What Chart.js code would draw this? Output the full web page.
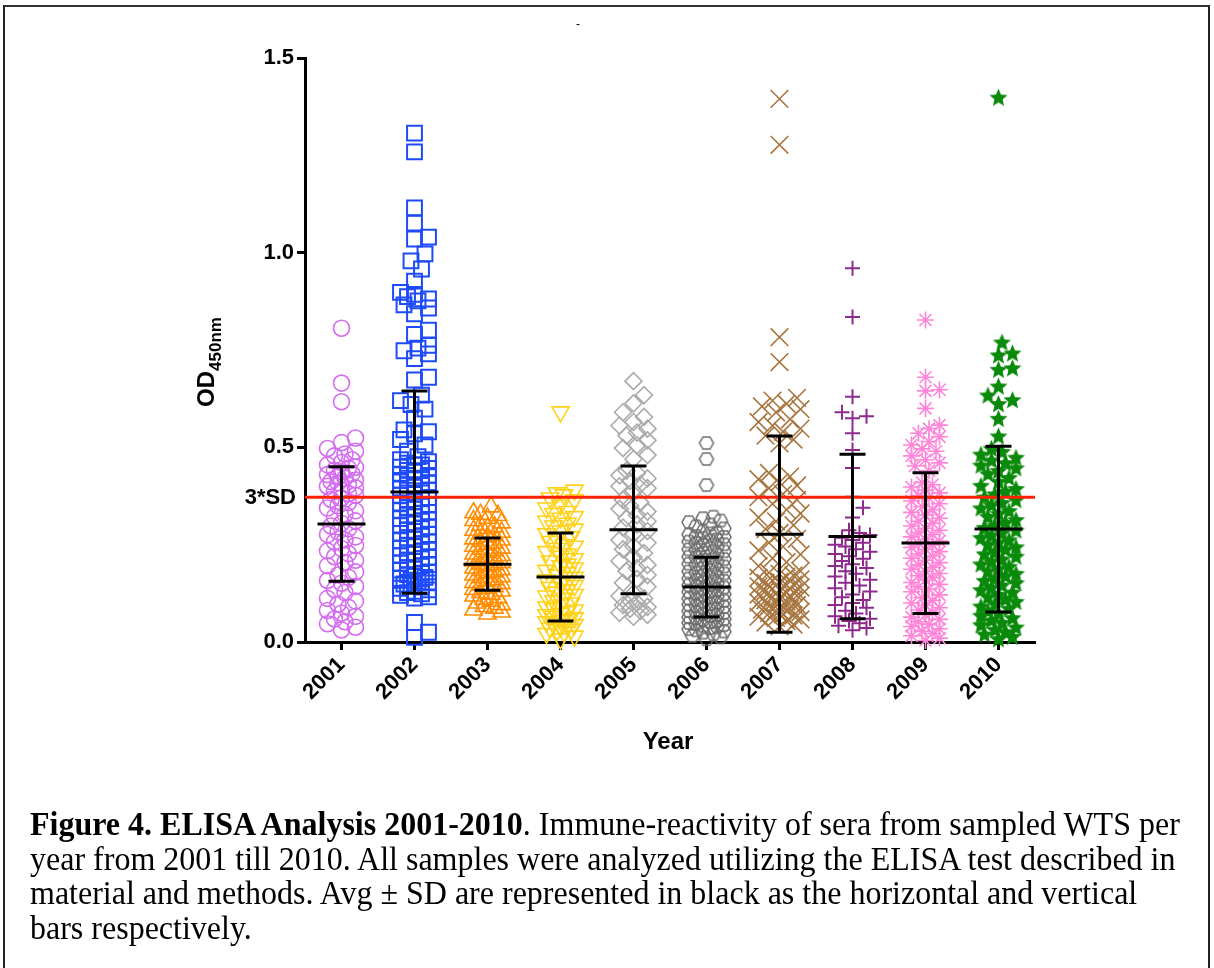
<!DOCTYPE html>
<html>
<head>
<meta charset="utf-8">
<title>ELISA Analysis 2001-2010</title>
<script src="https://cdn.jsdelivr.net/npm/chart.js@4.4.1/dist/chart.umd.min.js"></script>
<style>
    html, body { margin: 0; padding: 0; background: #fff; }
    #page { position: relative; width: 1214px; height: 968px; overflow: hidden; }
    #frame { position: absolute; left: 3px; top: 5px; width: 1203px; height: 1000px;
             border-top: 2px solid #333; border-left: 2px solid #222; border-right: 2px solid #222; }
    #grafico { position: absolute; left: 0; top: 0; }
    #marca { position: absolute; left: 576px; top: 17px; font: 12px 'Liberation Sans'; }
    #caption { position: absolute; left: 30px; top: 806px; font-family: 'Liberation Serif', serif;
               font-size: 32px; line-height: 32.5px; white-space: nowrap; color: #000;
               transform: scaleY(1.06); transform-origin: 0 0; }
</style>
</head>
<body>
<div id="page">
    <div id="frame"></div>
    <canvas id="grafico" width="1214" height="968"></canvas>
    <span id="marca">-</span>
    <div id="caption"><b>Figure 4. ELISA Analysis 2001-2010</b>. Immune-reactivity of sera from sampled WTS per<br>year from 2001 till 2010. All samples were analyzed utilizing the ELISA test described in<br>material and methods. Avg &plusmn; SD are represented in black as the horizontal and vertical<br>bars respectively.</div>
</div>
<script>
// Categorías (años)
const years = ['2001', '2002', '2003', '2004', '2005', '2006', '2007', '2008', '2009', '2010'];

// Valores OD450nm, uno por muestra
const od2001 = [0.806, 0.665, 0.617, 0.524, 0.512, 0.497, 0.49, 0.483, 0.478, 0.468, 0.461, 0.455, 0.449,
    0.446, 0.441, 0.437, 0.432, 0.43, 0.424, 0.421, 0.416, 0.412, 0.409, 0.403, 0.4, 0.396, 0.39, 0.387,
    0.381, 0.377, 0.37, 0.366, 0.358, 0.35, 0.344, 0.337, 0.328, 0.322, 0.311, 0.305, 0.298, 0.291, 0.283,
    0.276, 0.27, 0.262, 0.257, 0.248, 0.24, 0.234, 0.227, 0.219, 0.21, 0.204, 0.196, 0.18, 0.172, 0.166,
    0.158, 0.151, 0.143, 0.135, 0.127, 0.112, 0.105, 0.097, 0.089, 0.081, 0.074, 0.066, 0.059, 0.052,
    0.047, 0.038, 0.031];
const od2002 = [1.307, 1.259, 1.115, 1.076, 1.04, 1.035, 0.997, 0.979, 0.958, 0.927, 0.898, 0.893, 0.887,
    0.881, 0.876, 0.866, 0.858, 0.843, 0.801, 0.79, 0.762, 0.755, 0.748, 0.74, 0.728, 0.68, 0.673, 0.634,
    0.62, 0.61, 0.598, 0.575, 0.545, 0.54, 0.535, 0.52, 0.506, 0.49, 0.476, 0.468,
    0.463, 0.459, 0.455, 0.455, 0.449, 0.446, 0.441, 0.44, 0.436, 0.431, 0.428, 0.428, 0.421, 0.418, 0.415,
    0.409, 0.404, 0.404, 0.399, 0.395, 0.39, 0.388, 0.383, 0.379, 0.377, 0.371, 0.368, 0.366, 0.36, 0.357,
    0.352, 0.349, 0.346, 0.342, 0.337, 0.333, 0.331, 0.326, 0.322, 0.317, 0.315, 0.311, 0.306, 0.303, 0.3,
    0.296, 0.291, 0.287, 0.284, 0.279, 0.276, 0.272, 0.267, 0.264, 0.26, 0.257, 0.252, 0.248, 0.245, 0.241,
    0.236, 0.233, 0.229, 0.226, 0.222, 0.217, 0.214, 0.21, 0.207, 0.203, 0.199, 0.196, 0.191, 0.188, 0.185,
    0.18, 0.177, 0.173, 0.17, 0.166, 0.163, 0.159, 0.155, 0.152, 0.149, 0.145, 0.141, 0.138, 0.134, 0.13,
    0.127, 0.124, 0.12, 0.116, 0.113, 0.05, 0.025, 0.012];
const od2003 = [0.347, 0.332, 0.328, 0.325, 0.318, 0.312, 0.306, 0.3, 0.296, 0.292, 0.287, 0.282, 0.278,
    0.273, 0.27, 0.265, 0.262, 0.258, 0.254, 0.25, 0.246, 0.241, 0.238, 0.234, 0.23, 0.226, 0.222, 0.219,
    0.215, 0.211, 0.208, 0.204, 0.2, 0.198, 0.194, 0.19, 0.186, 0.183, 0.18, 0.176, 0.172, 0.168, 0.165,
    0.16, 0.157, 0.153, 0.15, 0.146, 0.142, 0.138, 0.135, 0.131, 0.127, 0.123, 0.118, 0.114, 0.11, 0.105,
    0.1, 0.096, 0.091, 0.087, 0.082, 0.077, 0.072];
const od2004 = [0.591, 0.39, 0.383, 0.378, 0.37, 0.365, 0.352, 0.344, 0.335, 0.33, 0.322, 0.318, 0.31,
    0.305, 0.298, 0.29, 0.285, 0.278, 0.27, 0.264, 0.258, 0.25, 0.246, 0.24, 0.232, 0.226, 0.22, 0.214,
    0.208, 0.2, 0.196, 0.19, 0.184, 0.178, 0.172, 0.166, 0.16, 0.155, 0.15, 0.145, 0.14, 0.134, 0.128,
    0.122, 0.118, 0.112, 0.106, 0.1, 0.095, 0.09, 0.086, 0.082, 0.078, 0.074, 0.07, 0.066, 0.062, 0.058,
    0.055, 0.052, 0.048, 0.045, 0.042, 0.039, 0.036, 0.033, 0.03, 0.026, 0.022, 0.015, 0.008];
const od2005 = [0.67, 0.634, 0.613, 0.59, 0.578, 0.565, 0.556, 0.548, 0.538, 0.53, 0.518, 0.505, 0.498,
    0.48, 0.47, 0.44, 0.434, 0.428, 0.42, 0.414, 0.405, 0.4, 0.395, 0.388, 0.365, 0.358, 0.35, 0.342, 0.335,
    0.326, 0.318, 0.31, 0.302, 0.294, 0.285, 0.278, 0.262, 0.255, 0.246, 0.238, 0.228, 0.218, 0.208, 0.198,
    0.19, 0.182, 0.172, 0.162, 0.152, 0.142, 0.125, 0.118, 0.112, 0.106, 0.1, 0.095, 0.09, 0.085, 0.08,
    0.075, 0.07, 0.065];
const od2006 = [0.511, 0.47, 0.403, 0.322, 0.318, 0.312, 0.308, 0.302, 0.297, 0.292, 0.284, 0.281, 0.279,
    0.276, 0.272, 0.27, 0.267, 0.263, 0.261, 0.258, 0.254, 0.251, 0.249, 0.245, 0.242, 0.238, 0.236, 0.233,
    0.229, 0.226, 0.222, 0.219, 0.217, 0.213, 0.21, 0.207, 0.203, 0.201, 0.198, 0.194, 0.191, 0.188, 0.185,
    0.181, 0.178, 0.176, 0.172, 0.169, 0.166, 0.163, 0.16, 0.157, 0.154, 0.151, 0.148, 0.146, 0.143, 0.14,
    0.137, 0.134, 0.131, 0.129, 0.126, 0.123, 0.12, 0.117, 0.115, 0.112, 0.109, 0.106, 0.104, 0.101, 0.098,
    0.096, 0.093, 0.09, 0.088, 0.085, 0.082, 0.08, 0.077, 0.075, 0.072, 0.069, 0.067, 0.064, 0.062, 0.059,
    0.057, 0.054, 0.052, 0.049, 0.047, 0.044, 0.042, 0.039, 0.036, 0.033, 0.03, 0.027, 0.024, 0.02, 0.016,
    0.012, 0.007];
const od2007 = [1.395, 1.277, 0.783, 0.719, 0.627, 0.62, 0.612, 0.605, 0.598, 0.59, 0.572, 0.565, 0.556,
    0.548, 0.54, 0.53, 0.52, 0.51, 0.434, 0.425, 0.418, 0.41, 0.402, 0.395, 0.38, 0.372, 0.365, 0.355, 0.34,
    0.33, 0.32, 0.31, 0.3, 0.29, 0.28, 0.265, 0.255, 0.245, 0.235, 0.225, 0.215, 0.205, 0.195, 0.182, 0.178,
    0.175, 0.171, 0.168, 0.165, 0.161, 0.158, 0.155, 0.152, 0.148, 0.146, 0.143, 0.14, 0.137, 0.134, 0.131,
    0.128, 0.126, 0.122, 0.119, 0.116, 0.113, 0.11, 0.107, 0.104, 0.101, 0.098, 0.095, 0.092, 0.089, 0.086,
    0.083, 0.08, 0.077, 0.074, 0.071, 0.068, 0.065, 0.062, 0.058, 0.054, 0.05, 0.045, 0.04];
const od2008 = [0.96, 0.835, 0.63, 0.59, 0.58, 0.575, 0.536, 0.493, 0.447, 0.373, 0.345, 0.32, 0.287, 0.28,
    0.275, 0.268, 0.262, 0.255, 0.25, 0.245, 0.238, 0.232, 0.226, 0.22, 0.214, 0.208, 0.2, 0.195, 0.19,
    0.182, 0.175, 0.168, 0.16, 0.152, 0.145, 0.138, 0.13, 0.122, 0.115, 0.108, 0.1, 0.095, 0.088, 0.08,
    0.073, 0.066, 0.06, 0.054, 0.048, 0.042, 0.036, 0.03];
const od2009 = [0.827, 0.68, 0.648, 0.645, 0.6, 0.557, 0.548, 0.536, 0.527, 0.515, 0.506, 0.496, 0.49,
    0.478, 0.468, 0.46, 0.452, 0.44, 0.41, 0.404, 0.398, 0.39, 0.383, 0.376, 0.37, 0.362, 0.355, 0.348,
    0.34, 0.333, 0.326, 0.318, 0.31, 0.305, 0.298, 0.292, 0.287, 0.281, 0.276, 0.27, 0.264, 0.259, 0.254,
    0.249, 0.243, 0.238, 0.232, 0.226, 0.221, 0.215, 0.21, 0.204, 0.198, 0.192, 0.187, 0.181, 0.176, 0.17,
    0.165, 0.159, 0.153, 0.148, 0.142, 0.136, 0.129, 0.121, 0.114, 0.107, 0.1, 0.094, 0.088, 0.082, 0.076,
    0.07, 0.064, 0.058, 0.052, 0.046, 0.04, 0.034, 0.028, 0.022, 0.016, 0.01, 0.004];
const od2010 = [1.397, 0.768, 0.74, 0.735, 0.702, 0.698, 0.655, 0.632, 0.62, 0.61, 0.572, 0.527, 0.495,
    0.487, 0.48, 0.472, 0.465, 0.458, 0.452, 0.445, 0.438, 0.43, 0.42, 0.41, 0.4, 0.392, 0.385, 0.378, 0.37,
    0.363, 0.356, 0.35, 0.342, 0.335, 0.328, 0.32, 0.312, 0.305, 0.298, 0.292, 0.285, 0.279, 0.272, 0.266,
    0.26, 0.254, 0.248, 0.242, 0.236, 0.23, 0.224, 0.218, 0.211, 0.205, 0.198, 0.192, 0.186, 0.18, 0.174,
    0.168, 0.162, 0.156, 0.15, 0.144, 0.138, 0.132, 0.126, 0.12, 0.114, 0.108, 0.102, 0.096, 0.09, 0.084,
    0.078, 0.072, 0.066, 0.06, 0.054, 0.048, 0.042, 0.036, 0.03, 0.024, 0.018, 0.012, 0.006];

// Media y desviación estándar (barras negras)
const means = [0.303, 0.385, 0.200, 0.167, 0.288, 0.141, 0.277, 0.271, 0.254, 0.290];
const sds = [0.147, 0.260, 0.067, 0.113, 0.164, 0.077, 0.252, 0.211, 0.181, 0.213];

// Línea de corte 3*SD
const cutoff = 0.372;

const yTicks = [0, 0.5, 1.0, 1.5];

document.addEventListener('DOMContentLoaded', function() {
    // Escalas aproximadas en píxeles, sólo para repartir los puntos en horizontal
    const PX_PER_UNIT = 389.3;
    const PX_PER_CAT = 73;

    // Reparto tipo "beeswarm" como en GraphPad
    function swarm(values, diam, maxPx) {
        const step = 3.5;
        const order = values.map((v, i) => i).sort((a, b) => values[a] - values[b]);
        const placed = [];
        const off = new Array(values.length).fill(0);
        const nCand = 2 * Math.floor(maxPx / step);
        order.forEach(i => {
            const y = values[i] * PX_PER_UNIT;
            let best = 0, bestScore = -1;
            for (let k = 0; k <= nCand; k++) {
                const cx = (k % 2 ? 1 : -1) * Math.ceil(k / 2) * step;
                let minD = Infinity;
                placed.forEach(p => {
                    const d = Math.hypot(p.x - cx, p.y - y);
                    if (d < minD) minD = d;
                });
                if (minD >= diam) { best = cx; bestScore = Infinity; break; }
                if (minD > bestScore + 0.5) { bestScore = minD; best = cx; }
            }
            placed.push({ x: best, y: y });
            off[i] = best / PX_PER_CAT;
        });
        return off;
    }

    // Marcadores que Chart.js no trae: hexágono y estrella rellena
    function makeHex(color, r) {
        const c = document.createElement('canvas');
        const s = Math.ceil(r * 2 + 4);
        c.width = s; c.height = s;
        const g = c.getContext('2d');
        g.strokeStyle = color;
        g.lineWidth = 1.5;
        g.beginPath();
        for (let i = 0; i < 6; i++) {
            const a = i * Math.PI / 3;
            g.lineTo(s / 2 + r * Math.cos(a), s / 2 + r * Math.sin(a));
        }
        g.closePath();
        g.stroke();
        return c;
    }
    function makeStar(color, r) {
        const c = document.createElement('canvas');
        const s = Math.ceil(r * 2 + 2);
        c.width = s; c.height = s;
        const g = c.getContext('2d');
        g.fillStyle = color;
        g.beginPath();
        for (let i = 0; i < 10; i++) {
            const rad = i % 2 ? r * 0.45 : r;
            const a = -Math.PI / 2 + i * Math.PI / 5;
            g.lineTo(s / 2 + rad * Math.cos(a), s / 2 + rad * Math.sin(a));
        }
        g.closePath();
        g.fill();
        return c;
    }

    const series = [
        { data: od2001, color: '#D56CF0', style: 'circle', radius: 8, width: 1.6, diam: 13, spread: 17 },
        { data: od2002, color: '#1E4BFA', style: 'rect', radius: 10.5, width: 2, diam: 13, spread: 17 },
        { data: od2003, color: '#FF8C00', style: 'triangle', radius: 10, width: 1.6, diam: 13, spread: 16 },
        { data: od2004, color: '#FFD21A', style: 'triangle', rotation: 180, radius: 10, width: 1.6, diam: 13, spread: 17 },
        { data: od2005, color: '#ABABAB', style: 'rectRot', radius: 8.5, width: 1.6, diam: 13, spread: 17 },
        { data: od2006, color: '#6E6E6E', style: makeHex('#6E6E6E', 7), radius: 7, width: 1.5, diam: 12, spread: 20 },
        { data: od2007, color: '#A8753F', style: 'crossRot', radius: 12.5, width: 1.6, diam: 14, spread: 21 },
        { data: od2008, color: '#8E2A8E', style: 'cross', radius: 7.5, width: 2, diam: 12, spread: 20 },
        { data: od2009, color: '#FF85D8', style: 'star', radius: 8.5, width: 1.6, diam: 13, spread: 17 },
        { data: od2010, color: '#0A8A0A', style: makeStar('#0A8A0A', 9.5), radius: 9.5, width: 1, diam: 13, spread: 20 }
    ];

    const datasets = series.map((s, idx) => {
        const off = swarm(s.data, s.diam, s.spread);
        return {
            label: years[idx],
            data: s.data.map((v, i) => ({ x: idx + 1 + off[i], y: v })),
            pointStyle: s.style,
            pointRotation: s.rotation || 0,
            pointRadius: s.radius,
            pointBorderWidth: s.width,
            pointBorderColor: s.color,
            pointBackgroundColor: 'rgba(0,0,0,0)',
            showLine: false,
            clip: false
        };
    });

    // Dibujo de media ± SD, línea de corte y títulos de los ejes
    const extras = {
        id: 'extras',
        afterDatasetsDraw(chart) {
            const ctx = chart.ctx;
            const xs = chart.scales.x, ys = chart.scales.y;
            const area = chart.chartArea;
            ctx.save();

            // línea roja 3*SD
            const yc = ys.getPixelForValue(cutoff);
            ctx.strokeStyle = '#FF2200';
            ctx.lineWidth = 3;
            ctx.beginPath();
            ctx.moveTo(area.left, yc);
            ctx.lineTo(area.right, yc);
            ctx.stroke();
            ctx.fillStyle = '#000';
            ctx.font = 'bold 22px "Liberation Sans"';
            ctx.textAlign = 'right';
            ctx.textBaseline = 'middle';
            ctx.fillText('3*SD', area.left - 9, yc + 1);

            // media ± SD
            ctx.strokeStyle = '#000';
            ctx.lineWidth = 3;
            means.forEach((m, i) => {
                const x = xs.getPixelForValue(i + 1);
                const yM = ys.getPixelForValue(m);
                const yT = ys.getPixelForValue(m + sds[i]);
                const yB = ys.getPixelForValue(m - sds[i]);
                ctx.beginPath();
                ctx.moveTo(x - 24, yM); ctx.lineTo(x + 24, yM);
                ctx.moveTo(x, yT); ctx.lineTo(x, yB);
                ctx.moveTo(x - 13, yT); ctx.lineTo(x + 13, yT);
                ctx.moveTo(x - 13, yB); ctx.lineTo(x + 13, yB);
                ctx.stroke();
            });

            // título eje Y con subíndice
            ctx.translate(206, 362);
            ctx.rotate(-Math.PI / 2);
            ctx.textAlign = 'left';
            ctx.textBaseline = 'alphabetic';
            ctx.font = 'bold 24px "Liberation Sans"';
            const w1 = ctx.measureText('OD').width;
            ctx.font = 'bold 17px "Liberation Sans"';
            const w2 = ctx.measureText('450nm').width;
            const x0 = -(w1 + w2) / 2;
            ctx.font = 'bold 24px "Liberation Sans"';
            ctx.fillText('OD', x0, 8);
            ctx.font = 'bold 17px "Liberation Sans"';
            ctx.fillText('450nm', x0 + w1, 15);
            ctx.restore();

            // título eje X
            ctx.save();
            ctx.fillStyle = '#000';
            ctx.font = 'bold 24px "Liberation Sans"';
            ctx.textAlign = 'center';
            ctx.textBaseline = 'middle';
            ctx.fillText('Year', 668, 742);
            ctx.restore();
        }
    };

    const ctx = document.getElementById('grafico').getContext('2d');
    new Chart(ctx, {
        type: 'scatter',
        data: { datasets: datasets },
        plugins: [extras],
        options: {
            responsive: false,
            animation: false,
            events: [],
            layout: { padding: { left: 0, top: 58, right: 179, bottom: 0 } },
            plugins: {
                legend: { display: false },
                tooltip: { enabled: false }
            },
            scales: {
                x: {
                    type: 'linear',
                    min: 0.5,
                    max: 10.5,
                    afterBuildTicks: s => { s.ticks = years.map((y, i) => ({ value: i + 1 })); },
                    afterFit: s => { s.height = 968 - 642; },
                    grid: { drawOnChartArea: false, drawTicks: true, tickLength: 8, tickWidth: 3, tickColor: '#000' },
                    border: { display: true, width: 3, color: '#000' },
                    ticks: {
                        autoSkip: false,
                        minRotation: 45,
                        maxRotation: 45,
                        padding: 2,
                        color: '#000',
                        font: { family: 'Liberation Sans', size: 22, weight: 'bold' },
                        callback: v => years[Math.round(v) - 1] || ''
                    }
                },
                y: {
                    min: 0,
                    max: 1.5,
                    afterBuildTicks: s => { s.ticks = yTicks.map(v => ({ value: v })); },
                    afterFit: s => { s.width = 305; },
                    grid: { drawOnChartArea: false, drawTicks: true, tickLength: 8, tickWidth: 3, tickColor: '#000' },
                    border: { display: true, width: 3, color: '#000' },
                    ticks: {
                        padding: 3,
                        color: '#000',
                        font: { family: 'Liberation Sans', size: 22, weight: 'bold' },
                        callback: v => v.toFixed(1)
                    }
                }
            }
        }
    });
});
</script>
</body>
</html>
